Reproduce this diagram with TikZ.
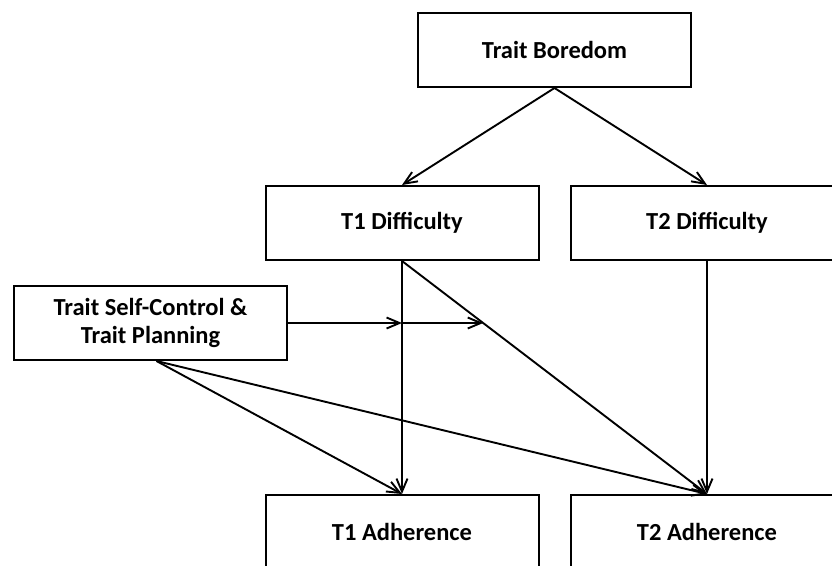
\documentclass[tikz,border=0pt]{standalone}
\usepackage{fontspec}
\setmainfont{Carlito}
\usetikzlibrary{arrows.meta,calc}
\begin{document}
\begin{tikzpicture}[x=1pt,y=-1pt,
  box/.style={draw=black,line width=2pt,rectangle,minimum width=273pt,minimum height=74pt,
    inner sep=0pt,align=center,font=\fontsize{24.5}{28}\selectfont\bfseries},
  arr/.style={draw=black,line width=1.9pt,-{Straight Barb[length=13pt,width=11pt,line width=1.9pt]}}]
\useasboundingbox (0,0) rectangle (832,565);
\node[box] (bore) at (554.5,50) {Trait Boredom};
\node[box] (d1) at (402,223) {T1 Difficulty};
\node[box] (d2) at (707,223) {T2 Difficulty};
\node[box] (sc) at (150.5,323) {Trait Self-Control \&\\Trait Planning};
\node[box] (a1) at (402,532) {T1 Adherence};
\node[box] (a2) at (707,532) {T2 Adherence};
\coordinate (scb) at ($(sc.south)+(6,0)$);
\coordinate (m1) at (d1.south |- sc.east);
\coordinate (m2) at (intersection of d1.south--a2.north and sc.east--m1);
\draw[arr] (bore.south) -- (d1.north);
\draw[arr] (bore.south) -- (d2.north);
\draw[arr] (d1.south) -- (a1.north);
\draw[arr] (d1.south) -- (a2.north);
\draw[arr] (d2.south) -- (a2.north);
\draw[arr] (scb) -- (a1.north);
\draw[arr] (scb) -- (a2.north);
\draw[arr] (sc.east) -- (m1);
\draw[arr] (m1) -- (m2);
\end{tikzpicture}
\end{document}
